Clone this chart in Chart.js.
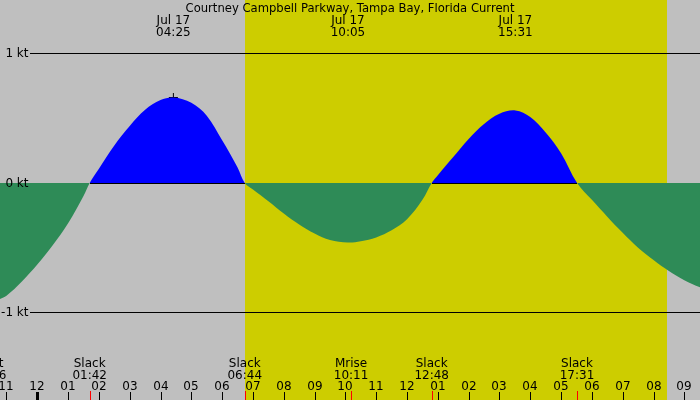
<!DOCTYPE html>
<html><head><meta charset="utf-8">
<script src="https://cdn.jsdelivr.net/npm/chart.js@4/dist/chart.umd.min.js"></script>
<style>html,body{margin:0;padding:0;background:#BFBFBF}#wrap{width:700px;height:400px}</style>
</head><body><div id="wrap"><canvas id="c" width="700" height="400"></canvas></div>
<script>
// ---- data ----
const title = 'Courtney Campbell Parkway, Tampa Bay, Florida Current';
// hours after midnight Jul 17 (negative = Jul 16)
const hours = [-1.25, -1.0, -0.5, 0, 0.5, 1.0, 1.5, 1.7, 2.0, 2.5, 3.0, 3.5, 4.0, 4.42, 5.0, 5.5, 6.0, 6.5, 6.733,
  7.0, 7.5, 8.0, 8.5, 9.0, 9.5, 10.08, 10.5, 11.0, 11.5, 12.0, 12.5, 12.8,
  13.0, 13.5, 14.0, 14.5, 15.0, 15.52, 16.0, 16.5, 17.0, 17.52,
  18.0, 18.5, 19.0, 19.5, 20.0, 20.5, 21.0, 21.55];
// current speed in knots (flood +, ebb -)
const knots = [-0.90, -0.87, -0.76, -0.63, -0.48, -0.31, -0.10, 0, 0.11, 0.29, 0.44, 0.565, 0.64, 0.66, 0.62, 0.52, 0.33, 0.12, 0,
  -0.05, -0.14, -0.235, -0.32, -0.39, -0.44, -0.46, -0.45, -0.42, -0.365, -0.28, -0.13, 0,
  0.06, 0.20, 0.34, 0.455, 0.535, 0.56, 0.51, 0.39, 0.23, 0,
  -0.13, -0.26, -0.385, -0.50, -0.595, -0.68, -0.75, -0.81];
const peakDates = ['Jul 17', 'Jul 17', 'Jul 17'];
const peakTimes = ['04:25', '10:05', '15:31'];
const eventNames = ['Mset', 'Slack', 'Slack', 'Mrise', 'Slack', 'Slack'];
const eventTimes = ['22:26', '01:42', '06:44', '10:11', '12:48', '17:31'];
const eventDays = [-1, 0, 0, 0, 0, 0];
const hourTicks = [-1,0,1,2,3,4,5,6,7,8,9,10,11,12,13,14,15,16,17,18,19,20,21];
const hourLabels = ['11','12','01','02','03','04','05','06','07','08','09','10','11','12','01','02','03','04','05','06','07','08','09'];
const sunrise = '06:44', sunset = '20:26';
const levelValues = [1, 0, -1];
const levelLabels = ['1 kt', '0 kt', '-1 kt'];
const floodPeriods = [['01:42', '06:44'], ['12:48', '17:31']];
const markTime = '04:25', markValue = 0.66;

// ---- helpers ----
function toH(t, day) { const [h, m] = t.split(':').map(Number); return h + m / 60 + 24 * (day || 0); }
const FONT = '12px "DejaVu Sans"';
const GREY = '#BFBFBF', YELLOW = '#CDCD00', BLUE = '#0000FF', GREEN = '#2E8B57';

const decor = {
  id: 'decor',
  beforeDatasetsDraw(chart) {
    const ctx = chart.ctx, x = chart.scales.x;
    ctx.save();
    ctx.fillStyle = GREY; ctx.fillRect(0, 0, chart.width, chart.height);
    const x0 = Math.round(x.getPixelForValue(toH(sunrise))), x1 = Math.round(x.getPixelForValue(toH(sunset)));
    ctx.fillStyle = YELLOW; ctx.fillRect(x0, 0, x1 - x0, chart.height);
    ctx.restore();
  },
  afterDatasetsDraw(chart) {
    const ctx = chart.ctx, x = chart.scales.x, y = chart.scales.y;
    ctx.save();
    const yz = Math.round(y.getPixelForValue(0));
    ctx.fillStyle = '#000';
    floodPeriods.forEach(([s, e]) => {
      const a = Math.round(x.getPixelForValue(toH(s))), b = Math.round(x.getPixelForValue(toH(e)));
      ctx.fillRect(a, yz, b - a, 1);
    });
    ctx.font = FONT; ctx.textAlign = 'right'; ctx.textBaseline = 'middle';
    levelValues.forEach((v, i) => {
      const py = Math.floor(y.getPixelForValue(v));
      if (v !== 0) ctx.fillRect(30, py, chart.width - 30, 1);
      ctx.fillText(levelLabels[i], 28.5, py + 1);
    });
    ctx.textAlign = 'center'; ctx.textBaseline = 'alphabetic';
    ctx.font = '11.6px "DejaVu Sans"';
    ctx.fillText(title, 350, 12);
    ctx.font = FONT;
    peakTimes.forEach((t, i) => {
      const px = x.getPixelForValue(toH(t));
      ctx.fillText(peakDates[i], px, 23.5);
      ctx.fillText(t, px, 36);
    });
    eventTimes.forEach((t, i) => {
      const px = x.getPixelForValue(toH(t, eventDays[i]));
      ctx.fillStyle = '#000';
      ctx.fillText(eventNames[i], px, 367);
      ctx.fillText(t, px, 378.5);
      ctx.fillStyle = '#FF0000';
      ctx.fillRect(Math.round(px), 391, 1, 9);
    });
    ctx.fillStyle = '#000';
    hourTicks.forEach((h, i) => {
      const px = Math.round(x.getPixelForValue(h));
      ctx.fillText(hourLabels[i], px, 390);
      if (h === 0) ctx.fillRect(px - 1, 392, 3, 8);
      else ctx.fillRect(px, 392, 1, 8);
    });
    ctx.restore();
  }
};

const pxPerHour = 30.81, zeroX = 37.3, pxPerKt = 129.5, zeroY = 183;
new Chart(document.getElementById('c'), {
  type: 'line',
  data: {
    datasets: [{
      data: hours.map((h, i) => ({ x: h, y: knots[i] })),
      borderColor: 'rgba(0,0,0,0)', borderWidth: 0, pointRadius: 0,
      tension: 0.35,
      fill: { target: 'origin', above: BLUE, below: GREEN }
    }, {
      type: 'scatter',
      data: [{ x: toH(markTime), y: markValue }],
      pointStyle: 'cross', pointRadius: 4.5, borderColor: '#000', borderWidth: 1, backgroundColor: '#000'
    }]
  },
  options: {
    responsive: false, animation: false, devicePixelRatio: 1,
    layout: { padding: 0, autoPadding: false },
    plugins: { legend: { display: false }, tooltip: { enabled: false }, title: { display: false } },
    scales: {
      x: { type: 'linear', display: false, min: -zeroX / pxPerHour, max: (700 - zeroX) / pxPerHour },
      y: { type: 'linear', display: false, min: -(400 - zeroY) / pxPerKt, max: zeroY / pxPerKt }
    }
  },
  plugins: [decor]
});
</script>
</body></html>
